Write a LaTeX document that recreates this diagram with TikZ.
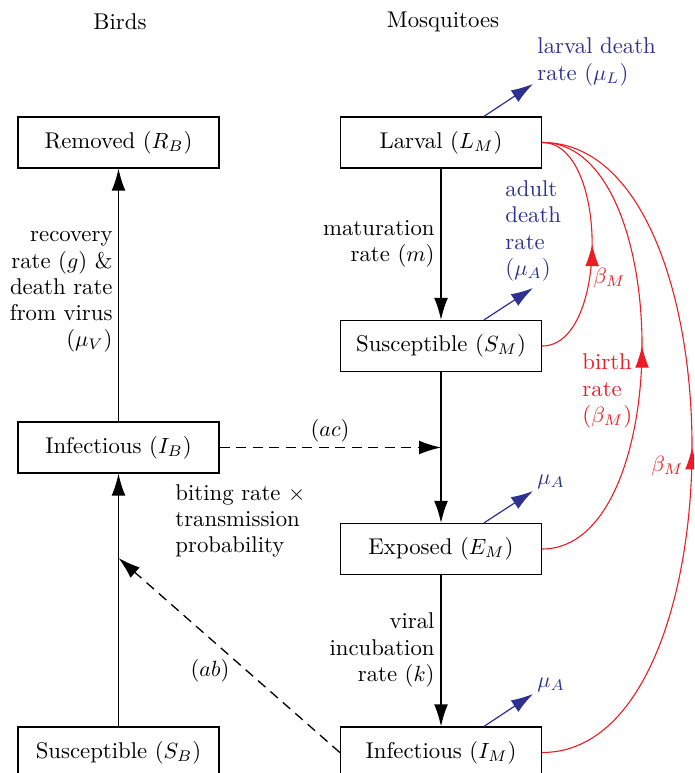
\documentclass[tikz,border=0pt]{standalone}
\usetikzlibrary{arrows.meta,decorations.markings,calc}
\definecolor{myblue}{RGB}{46,49,146}
\definecolor{myred}{RGB}{237,28,36}
\begin{document}
\begin{tikzpicture}[x=0.4545pt,y=-0.4545pt,
  every node/.style={font=\fontsize{10.35pt}{11.9pt}\selectfont},
  box/.style={draw,line width=0.55pt,minimum width=91.4pt,minimum height=23.2pt,inner sep=0pt},
  flow/.style={line width=0.6pt,-{Latex[length=10pt,width=6.3pt]}},
  dflow/.style={flow,dash pattern=on 4.5pt off 3pt},
  death/.style={myblue,line width=0.55pt,-{Latex[length=10pt,width=6.3pt]}},
  birth/.style={myred,line width=0.5pt,postaction={decorate},
    decoration={markings,mark=at position 0.5 with {\arrow{Latex[length=10pt,width=6.3pt]}}}},
  lbl/.style={inner sep=0pt,align=left},
  rlbl/.style={inner sep=0pt,align=right}]
\clip (0,0) rectangle (694,773);
\useasboundingbox (0,0) rectangle (694,773);

\node (birds) at (120,22) {Birds};
\node (mosq) at (443,22) {Mosquitoes};

\node[box] (rb) at (118.5,142.5) {Removed ($R_B$)};
\node[box] (lm) at (441,142.5) {Larval ($L_M$)};
\node[box] (sm) at (441,346) {Susceptible ($S_M$)};
\node[box] (ib) at (118.5,447.5) {Infectious ($I_B$)};
\node[box] (em) at (441,549) {Exposed ($E_M$)};
\node[box] (sb) at (118.5,752.5) {Susceptible ($S_B$)};
\node[box] (im) at (441,752.5) {Infectious ($I_M$)};

% black flows
\draw[flow] (lm) -- (sm);
\draw[flow] (sm) -- (em);
\draw[flow] (em) -- (im);
\draw[flow] (sb) -- (ib);
\draw[flow] (ib) -- (rb);

% dashed infection arrows
\coordinate (acend) at (441,447.5);
\coordinate (abend) at (118.5,558);
\draw[dflow] (ib) -- (acend);
\draw[dflow] (im.west) -- (abend);

% flow labels
\node[rlbl,anchor=east] (lrec) at (113,292) {recovery\\rate ($g$) \&\\death rate\\from virus\\($\mu_V$)};
\node[rlbl,anchor=east] (lmat) at (435,244) {maturation\\rate ($m$)};
\node[rlbl,anchor=east] (linc) at (435,650) {viral\\incubation\\rate ($k$)};
\node[lbl,anchor=west] (lbite) at (175,521) {biting rate $\times$\\transmission\\probability};
\node (lac) at (330,431) {($ac$)};
\node (lab) at (210,671) {($ab$)};

% death arrows
\coordinate (dl) at (533,84);
\coordinate (ds) at (533,288);
\coordinate (de) at (533,491);
\coordinate (di) at (533,694);
\draw[death] ($(lm.north)+(43,0)$) -- (dl);
\draw[death] ($(sm.north)+(43,0)$) -- (ds);
\draw[death] ($(em.north)+(43,0)$) -- (de);
\draw[death] ($(im.north)+(43,0)$) -- (di);
\node[lbl,anchor=west,text=myblue] (ldl) at (537,62) {larval death\\rate ($\mu_L$)};
\node[lbl,anchor=west,text=myblue] (lda) at (505,231) {adult\\death\\rate\\($\mu_A$)};
\node[lbl,anchor=west,text=myblue] (lde) at (537,482) {$\mu_A$};
\node[lbl,anchor=west,text=myblue] (ldi) at (537,685) {$\mu_A$};

% birth curves
\draw[birth] (sm.east) to[out=0,in=0,looseness=0.84] (lm.east);
\draw[birth] (em.east) to[out=0,in=0,looseness=0.84] (lm.east);
\draw[birth] (im.east) to[out=0,in=0,looseness=0.84] (lm.east);
\node[lbl,anchor=west,text=myred] (lb1) at (593,278) {$\beta_M$};
\node[lbl,anchor=west,text=myred] (lb2) at (582,391) {birth\\rate\\($\beta_M$)};
\node[lbl,anchor=west,text=myred] (lb3) at (651,466) {$\beta_M$};
\end{tikzpicture}
\end{document}
